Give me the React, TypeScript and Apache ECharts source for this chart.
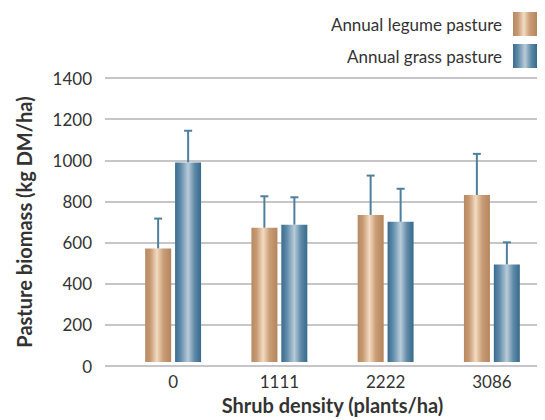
import React, { useEffect, useRef } from "react";
import * as echarts from "echarts";

const categories = ["0", "1111", "2222", "3086"];
const legumeMean = [560, 662, 725, 823];
const legumeUpper = [707, 817, 919, 1026];
const grassMean = [984, 677, 691, 481];
const grassUpper = [1140, 812, 854, 590];
const yTicks = [0, 200, 400, 600, 800, 1000, 1200, 1400];

const FONT = "Lato, 'Noto Sans', sans-serif";

const legumeGrad = new echarts.graphic.LinearGradient(0, 0, 1, 0, [
  { offset: 0, color: "#b88961" },
  { offset: 0.2, color: "#c69a74" },
  { offset: 0.45, color: "#f3dbc1" },
  { offset: 0.7, color: "#c99d77" },
  { offset: 1, color: "#b5855d" },
]);
const grassGrad = new echarts.graphic.LinearGradient(0, 0, 1, 0, [
  { offset: 0, color: "#3a6c8e" },
  { offset: 0.2, color: "#5d89a7" },
  { offset: 0.5, color: "#b9cbd9" },
  { offset: 0.75, color: "#5f8aa8" },
  { offset: 1, color: "#366a8c" },
]);

function errorSeries(means: number[], uppers: number[], offset: number) {
  return {
    type: "custom",
    xAxisIndex: 1,
    yAxisIndex: 1,
    z: 5,
    silent: true,
    data: means.map((m, i) => [i, m, uppers[i]]),
    renderItem: (params: any, api: any) => {
      const bottom = api.coord([api.value(0), api.value(1)]);
      const top = api.coord([api.value(0), api.value(2)]);
      const x = bottom[0] + offset;
      const style = { stroke: "#4f7f9e", lineWidth: 2 };
      return {
        type: "group",
        children: [
          { type: "line", shape: { x1: x, y1: bottom[1], x2: x, y2: top[1] }, style },
          { type: "line", shape: { x1: x - 4, y1: top[1], x2: x + 4, y2: top[1] }, style },
        ],
      };
    },
  };
}

export default function App() {
  const ref = useRef<HTMLDivElement>(null);
  useEffect(() => {
    if (!ref.current) return;
    const chart = echarts.init(ref.current, null, { renderer: "svg" });
    chart.setOption({
      animation: false,
      backgroundColor: "#ffffff",
      textStyle: { fontFamily: FONT },
      legend: {
        orient: "vertical",
        right: 3,
        top: 7,
        align: "right",
        itemWidth: 24,
        itemHeight: 24,
        itemGap: 8,
        icon: "rect",
        textStyle: { fontSize: 17, color: "#333", fontFamily: FONT, padding: [0, 6, 0, 0] },
        data: ["Annual legume pasture", "Annual grass pasture"],
      },
      grid: [
        { left: 105, right: 8, top: 78, bottom: 54 },
        { left: 120, right: 0, top: 78, bottom: 54 },
      ],
      xAxis: [
        { gridIndex: 0, type: "category", data: [""], show: false },
        {
          gridIndex: 1,
          type: "category",
          data: categories,
          axisLine: { show: false },
          axisTick: { show: false },
          axisLabel: { fontSize: 17, color: "#333", margin: 11, fontFamily: FONT },
          name: "Shrub density (plants/ha)",
          nameLocation: "middle",
          nameGap: 33,
          nameTextStyle: { fontSize: 20, fontWeight: "bold", color: "#333", fontFamily: FONT },
        },
      ],
      yAxis: [
        {
          gridIndex: 0,
          type: "value",
          min: 0,
          max: 1400,
          interval: 200,
          axisLine: { show: false },
          axisTick: { show: false },
          axisLabel: {
            fontSize: 17,
            color: "#333",
            margin: 13,
            fontFamily: FONT,
            formatter: (v: number) => (yTicks.includes(v) ? String(v) : ""),
          },
          splitLine: { show: true, lineStyle: { color: "#b3b3b8", width: 1.5 } },
          name: "Pasture biomass (kg DM/ha)",
          nameLocation: "middle",
          nameGap: 71,
          nameTextStyle: { fontSize: 20, fontWeight: "bold", color: "#333", fontFamily: FONT },
        },
        { gridIndex: 1, type: "value", min: 0, max: 1400, show: false },
      ],
      series: [
        {
          name: "Annual legume pasture",
          type: "bar",
          xAxisIndex: 1,
          yAxisIndex: 1,
          barWidth: 26,
          barGap: "15%",
          data: legumeMean,
          itemStyle: { color: legumeGrad },
        },
        {
          name: "Annual grass pasture",
          type: "bar",
          xAxisIndex: 1,
          yAxisIndex: 1,
          barWidth: 26,
          barGap: "15%",
          data: grassMean,
          itemStyle: { color: grassGrad },
        },
        errorSeries(legumeMean, legumeUpper, -15),
        errorSeries(grassMean, grassUpper, 15),
      ],
    });
    return () => chart.dispose();
  }, []);
  return (
    <div
      ref={ref}
      style={{ position: "absolute", left: 0, top: 0, width: 545, height: 420 }}
    />
  );
}
